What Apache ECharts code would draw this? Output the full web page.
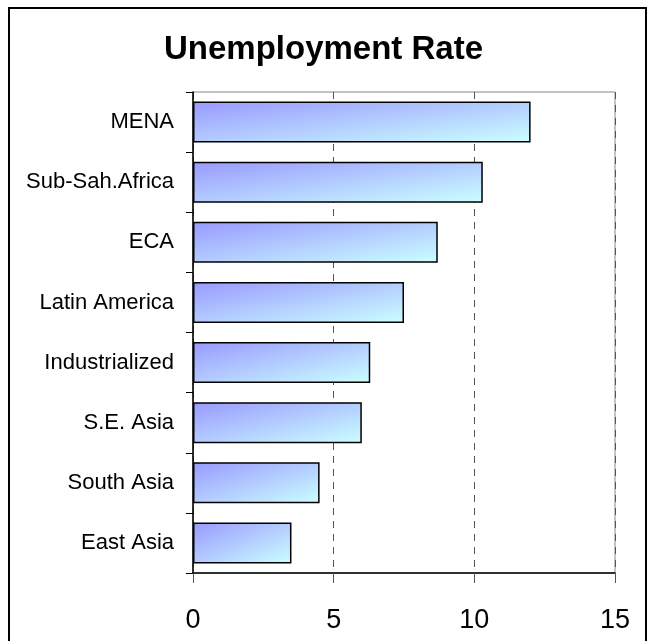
<!DOCTYPE html>
<html>
<head>
<meta charset="utf-8">
<script src="https://cdn.jsdelivr.net/npm/echarts@6/dist/echarts.min.js"></script>
<style>
  html, body { margin: 0; padding: 0; background: #fff; }
  #chart { width: 647px; height: 641px; }
</style>
</head>
<body>
<div id="chart"></div>
<script>
// categories bottom-to-top (ECharts category y axis starts at the bottom)
const regions = ["East Asia", "South Asia", "S.E. Asia", "Industrialized", "Latin America", "ECA", "Sub-Sah.Africa", "MENA"];
const rates = [3.5, 4.5, 6.0, 6.3, 7.5, 8.7, 10.3, 12.0];
const xTicks = [0, 5, 10, 15];

const font = "Liberation Sans, Arial, sans-serif";
const gridLeft = 193, gridRight = 32, gridTop = 92, gridBottom = 68;
const barRatio = 0.68;

// Excel-style diagonal fill: the gradient runs corner to corner in the bar's own
// normalised box, so convert it to a pixel-space direction for each bar.
function barFill(v) {
	const plotW = 647 - gridLeft - gridRight;
	const plotH = 641 - gridTop - gridBottom;
	const w = (v / xTicks[xTicks.length - 1]) * plotW;
	const h = (plotH / regions.length) * barRatio;
	const s = w * w + h * h;
	return new echarts.graphic.LinearGradient(0, 0, (2 * h * h) / s, (2 * w * w) / s, [
		{ offset: 0, color: "#9999ff" },
		{ offset: 1, color: "#ccffff" },
	]);
}

const chart = echarts.init(document.getElementById("chart"));

chart.setOption({
	animation: false,
	backgroundColor: "#fff",
	title: {
		text: "Unemployment Rate",
		left: "center",
		top: 28,
		textStyle: { fontFamily: font, fontSize: 33, fontWeight: "bold", color: "#000" },
	},
	graphic: [
		{
			type: "rect",
			shape: { x: 9, y: 8, width: 637, height: 700 },
			style: { fill: null, stroke: "#000", lineWidth: 2 },
			silent: true,
		},
	],
	grid: {
		left: gridLeft,
		right: gridRight,
		top: gridTop,
		bottom: gridBottom,
		show: true,
		borderColor: "#888",
		borderWidth: 1,
	},
	xAxis: {
		type: "value",
		min: xTicks[0],
		max: xTicks[xTicks.length - 1],
		interval: 5,
		axisLine: { show: true, lineStyle: { color: "#000", width: 1.5 } },
		axisTick: { show: true, length: 10, lineStyle: { color: "#555" } },
		axisLabel: { fontFamily: font, fontSize: 27, color: "#000", margin: 34 },
		splitLine: { show: true, lineStyle: { color: "#555", type: [7, 6], width: 1 } },
	},
	yAxis: {
		type: "category",
		data: regions,
		axisLine: { show: true, lineStyle: { color: "#000", width: 1.5 } },
		axisTick: { show: true, length: 7, lineStyle: { color: "#000" } },
		axisLabel: { fontFamily: font, fontSize: 22, color: "#000", margin: 19 },
		splitLine: { show: false },
	},
	series: [
		{
			type: "bar",
			data: rates.map((v) => ({ value: v, itemStyle: { color: barFill(v) } })),
			barWidth: barRatio * 100 + "%",
			itemStyle: {
				borderColor: "#000",
				borderWidth: 1.5,
			},
		},
	],
});
</script>
</body>
</html>
